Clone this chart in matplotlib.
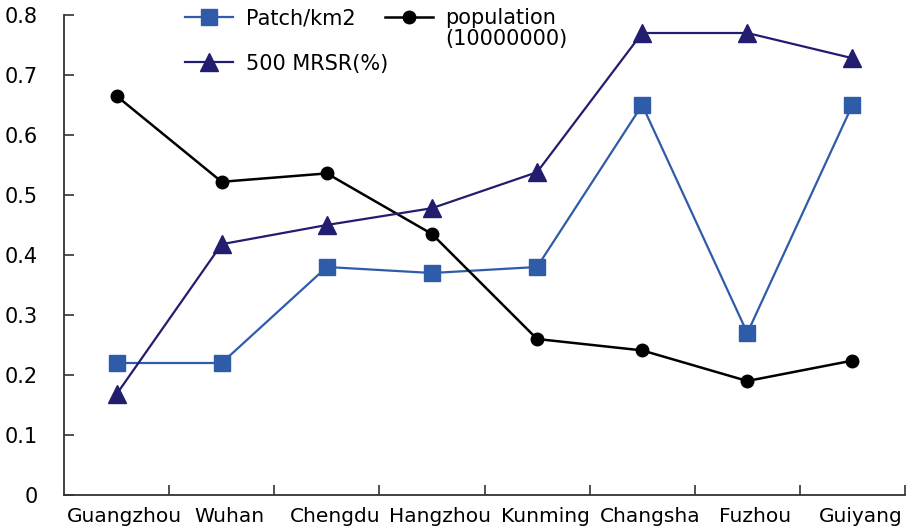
import matplotlib
matplotlib.use("Agg")
import matplotlib.pyplot as plt
import matplotlib.transforms as mtrans
import numpy as np

cities = ["Guangzhou", "Wuhan", "Chengdu", "Hangzhou", "Kunming", "Changsha", "Fuzhou", "Guiyang"]
patch = [0.22, 0.22, 0.38, 0.37, 0.38, 0.65, 0.27, 0.65]
population = [0.665, 0.522, 0.536, 0.435, 0.26, 0.241, 0.19, 0.224]
mrsr = [0.168, 0.418, 0.45, 0.478, 0.538, 0.77, 0.77, 0.728]
yticks = [0, 0.1, 0.2, 0.3, 0.4, 0.5, 0.6, 0.7, 0.8]
ytick_labels = ["0", "0.1", "0.2", "0.3", "0.4", "0.5", "0.6", "0.7", "0.8"]

plt.rcParams['font.family'] = ['DejaVu Sans']
fig = plt.figure(figsize=(9.07, 5.32), dpi=100)
ax = fig.add_axes([64/907, 37/532, (905-64)/907, (495-15)/532])

x = np.arange(len(cities))
l1, = ax.plot(x, patch, color="#2e5ca8", marker="s", markersize=11.5, lw=1.6, label="Patch/km2")
l3, = ax.plot(x, population, color="black", marker="o", markersize=9, lw=1.8, label="population")
l2, = ax.plot(x, mrsr, color="#221d6e", marker="^", markersize=12.5, lw=1.6, label="500 MRSR(%)")

ax.set_xlim(-0.5, len(cities) - 0.5)
ax.set_ylim(0, 0.8)
ax.set_yticks(yticks)
ax.set_yticklabels(ytick_labels)
ax.set_xticks(x)
ax.set_xticklabels(cities)
ax.set_xticks(np.arange(len(cities)) + 0.5, minor=True)
ax.tick_params(axis="x", which="major", length=0, labelsize=14.5, pad=9)
ax.tick_params(axis="x", which="minor", direction="in", length=7, width=1.2, color="#333333")
ax.tick_params(axis="y", direction="in", length=7, width=1.2, labelsize=15, pad=19, color="#333333")
offset = mtrans.ScaledTranslation(8/100, 0, fig.dpi_scale_trans)
for lab in ax.get_xticklabels():
    lab.set_transform(lab.get_transform() + offset)
for s in ["top", "right"]:
    ax.spines[s].set_visible(False)
for s in ["left", "bottom"]:
    ax.spines[s].set_linewidth(1.3)
    ax.spines[s].set_color("#333333")

leg = ax.legend(handles=[l1, l2, l3], ncol=2, frameon=False, fontsize=15,
                loc="upper left", bbox_to_anchor=(183/907, 1 - 6/532), bbox_transform=fig.transFigure,
                handlelength=2.3, columnspacing=-0.15, labelspacing=1.22, handletextpad=0.6,
                borderaxespad=0, borderpad=0.1)

fig.canvas.draw()
bb = leg.get_texts()[2].get_window_extent()
fig.text(bb.x0 / 907, (bb.y0 - 1) / 532, "(10000000)", fontsize=15, va="top", ha="left")

fig.savefig("out.png", dpi=100)
